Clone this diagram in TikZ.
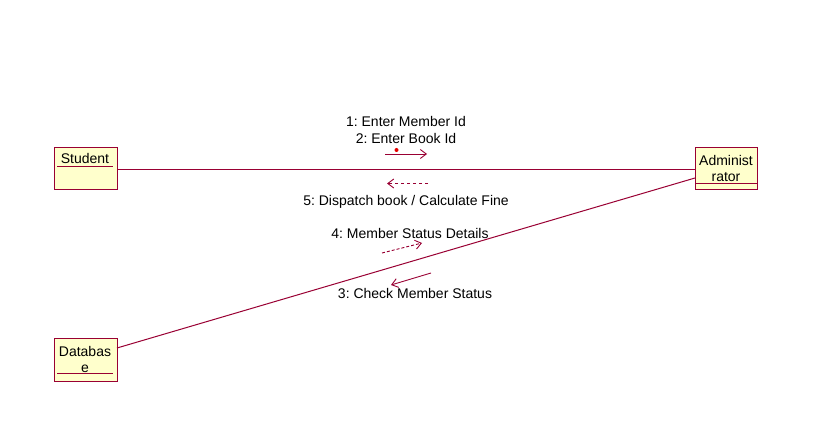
\documentclass[tikz,border=0pt]{standalone}
\usepackage{fontspec}
\setmainfont{Liberation Sans}
\usetikzlibrary{arrows.meta}

\definecolor{umlline}{RGB}{153,0,51}
\definecolor{umlfill}{RGB}{255,255,204}

\tikzset{
    obj/.style = {draw = umlline, fill = umlfill, rectangle, inner sep = 0pt, line width = 1pt},
    link/.style = {draw = umlline, line width = 1pt},
    msg/.style = {-{Straight Barb[length=6pt,width=9pt]}, draw = umlline, line width = 0.9pt},
    txt/.style = {inner sep = 0pt, anchor = base}
}

\begin{document}
\frenchspacing
\begin{tikzpicture}[x = 1pt, y = -1pt, font = \fontsize{14}{16}\selectfont]
        \useasboundingbox (0,0) rectangle (840,443);

        % objects
        \node[obj, minimum width = 63pt, minimum height = 42pt] (student) at (85.5,168.5) {};
        \node[obj, minimum width = 62pt, minimum height = 42pt] (admin) at (726,169) {};
        \node[obj, minimum width = 63pt, minimum height = 43pt] (database) at (85.5,359.5) {};

        \node[txt] (studentname) at (85,163.5) {Student};
        \node[txt] (adminname1) at (726,166) {Administ};
        \node[txt] (adminname2) at (726,182) {rator};
        \node[txt] (dbname1) at (85,356) {Databas};
        \node[txt] (dbname2) at (85,372) {e};

        \draw [link] (57,166.5) -- (113,166.5);
        \draw [link] (695,184) -- (757,184);
        \draw [link] (57,373.5) -- (113,373.5);

        % links
        \coordinate (a1) at (695,169.5);
        \coordinate (a2) at (695,178);
        \coordinate (s1) at (117,169.5);
        \coordinate (d1) at (117,348);
        \draw [link] (s1) -- (a1);
        \draw [link] (d1) -- (a2);

        % messages
        \node[txt] (m1) at (406,127) {1: Enter Member Id};
        \node[txt] (m2) at (406,144) {2: Enter Book Id};
        \coordinate (m2a) at (385,154);
        \coordinate (m2b) at (427,154);
        \draw [msg] (m2a) -- (m2b);
        \fill [red!90!black] (396.5,150) circle(2pt);

        \coordinate (m5a) at (428,183.5);
        \coordinate (m5b) at (387,183.5);
        \draw [msg, dashed] (m5a) -- (m5b);
        \node[txt] (m5) at (406,206) {5: Dispatch book / Calculate Fine};

        \node[txt] (m4) at (410,239) {4: Member Status Details};
        \coordinate (m4a) at (382,253);
        \coordinate (m4b) at (422,243);
        \draw [msg, densely dashed] (m4a) -- (m4b);

        \coordinate (m3a) at (431,273);
        \coordinate (m3b) at (391,285);
        \draw [msg] (m3a) -- (m3b);
        \node[txt] (m3) at (415,299) {3: Check Member Status};
    \end{tikzpicture}
\end{document}
